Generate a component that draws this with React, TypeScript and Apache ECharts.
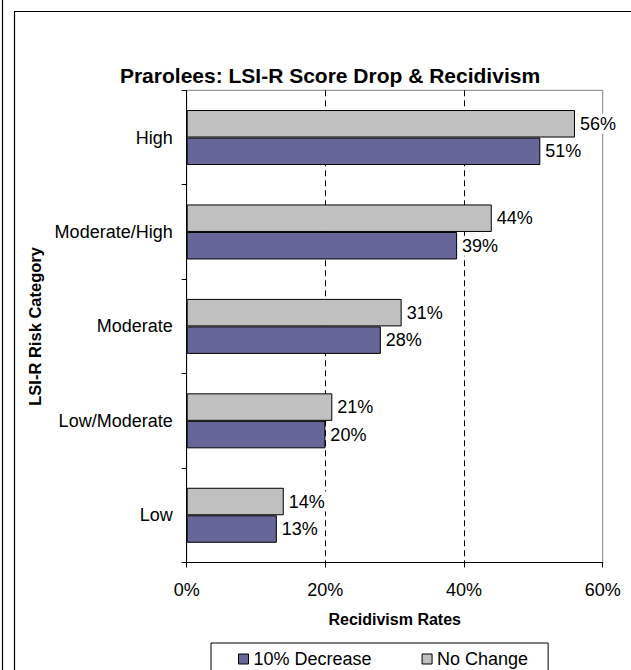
import React, { useEffect, useRef } from "react";
import * as echarts from "echarts";

const categories = ["Low", "Low/Moderate", "Moderate", "Moderate/High", "High"];
const decreaseValues = [13, 20, 28, 39, 51];
const noChangeValues = [14, 21, 31, 44, 56];
const seriesNames = ["10% Decrease", "No Change"];
const titleText = "Prarolees: LSI-R Score Drop & Recidivism";
const xAxisName = "Recidivism Rates";
const yAxisName = "LSI-R Risk Category";

const FONT = "'Liberation Sans', Arial, sans-serif";

export default function App() {
  const ref = useRef<HTMLDivElement>(null);
  useEffect(() => {
    if (!ref.current) return;
    const chart = echarts.init(ref.current, undefined, { renderer: "svg" });
    const labelCfg = {
      show: true,
      position: "right",
      distance: 3,
      formatter: "{c}%",
      color: "#000",
      fontSize: 18,
      fontFamily: FONT,
      backgroundColor: "#fff",
      padding: [1, 2, 1, 2],
    };
    chart.setOption({
      animation: false,
      backgroundColor: "#fff",
      textStyle: { fontFamily: FONT },
      graphic: [
        { type: "line", shape: { x1: 2.5, y1: 0, x2: 2.5, y2: 670 }, style: { stroke: "#000", lineWidth: 1.2 } },
        { type: "line", shape: { x1: 14.5, y1: 11, x2: 14.5, y2: 670 }, style: { stroke: "#000", lineWidth: 1.2 } },
        { type: "line", shape: { x1: 14.5, y1: 11.5, x2: 631, y2: 11.5 }, style: { stroke: "#000", lineWidth: 1.2 } },
        {
          type: "text",
          x: 330,
          y: 75,
          style: {
            text: titleText,
            font: `bold 21px ${FONT}`,
            fill: "#000",
            textAlign: "center",
            textVerticalAlign: "middle",
          },
        },
      ],
      grid: {
        left: 186.7,
        right: 28.3,
        top: 90.3,
        bottom: 107.5,
        show: true,
        borderColor: "#808080",
        borderWidth: 1,
        backgroundColor: "transparent",
      },
      legend: {
        data: seriesNames,
        left: 211,
        top: 643,
        padding: [7, 20, 12, 27],
        itemGap: 50,
        itemWidth: 10,
        itemHeight: 10,
        icon: "rect",
        borderColor: "#000",
        borderWidth: 1,
        textStyle: { fontSize: 18, color: "#000", fontFamily: FONT },
        itemStyle: { borderColor: "#000", borderWidth: 1 },
      },
      xAxis: {
        type: "value",
        min: 0,
        max: 60,
        interval: 20,
        name: xAxisName,
        nameLocation: "middle",
        nameGap: 49,
        nameTextStyle: { fontSize: 16, fontWeight: "bold", color: "#000", fontFamily: FONT },
        axisLine: { show: true, lineStyle: { color: "#000", width: 1 } },
        axisTick: { show: true, length: 5, lineStyle: { color: "#000" } },
        axisLabel: { formatter: "{value}%", fontSize: 18, color: "#000", margin: 18, fontFamily: FONT },
        splitLine: {
          show: true,
          showMinLine: false,
          showMaxLine: false,
          lineStyle: { color: "#000", type: [6, 4], width: 1 },
        },
      },
      yAxis: {
        type: "category",
        data: categories,
        name: yAxisName,
        nameLocation: "middle",
        nameGap: 140,
        nameTextStyle: { fontSize: 16.5, fontWeight: "bold", color: "#000", fontFamily: FONT },
        axisLine: { show: true, lineStyle: { color: "#000", width: 1 } },
        axisTick: { show: true, length: 5, lineStyle: { color: "#000" } },
        axisLabel: { fontSize: 18, color: "#000", margin: 14, fontFamily: FONT },
        splitLine: { show: false },
      },
      series: [
        {
          name: seriesNames[1],
          type: "bar",
          data: noChangeValues,
          barWidth: 27.5,
          barGap: "0%",
          itemStyle: { color: "#C0C0C0", borderColor: "#000", borderWidth: 1 },
          label: labelCfg,
        },
        {
          name: seriesNames[0],
          type: "bar",
          data: decreaseValues,
          barWidth: 27.5,
          barGap: "0%",
          itemStyle: { color: "#666699", borderColor: "#000", borderWidth: 1 },
          label: labelCfg,
        },
      ],
    });
    return () => chart.dispose();
  }, []);
  return (
    <div
      ref={ref}
      style={{ position: "fixed", left: 0, top: 0, width: 631, height: 670 }}
    />
  );
}
